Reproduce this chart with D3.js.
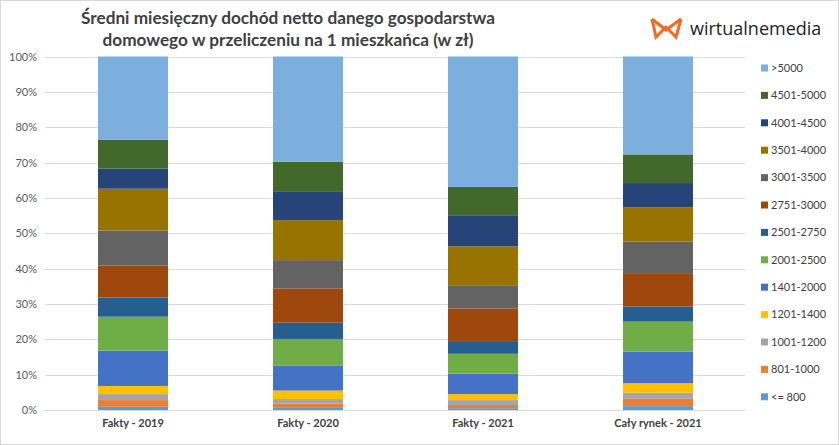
<!DOCTYPE html>
<html><head><meta charset="utf-8">
<script src="https://cdn.jsdelivr.net/npm/d3@7"></script>
<style>body{margin:0;background:#fff}svg{display:block}</style>
</head><body><svg id="c" width="839" height="445"></svg>
<script>
const categories = ["Fakty - 2019", "Fakty - 2020", "Fakty - 2021", "Cały rynek - 2021"];
const seriesNames = ["<= 800","801-1000","1001-1200","1201-1400","1401-2000","2001-2500","2501-2750","2751-3000","3001-3500","3501-4000","4001-4500","4501-5000",">5000"];
const seriesColors = ["#5B9BD5","#ED7D31","#A5A5A5","#FFC000","#4472C4","#70AD47","#255E91","#9E480E","#636363","#997300","#264478","#43682B","#7CAFDD"];
// percent values per series, one per category
const v_le800   = [0.9, 0.8, 0.5, 1.1];
const v_801     = [1.9, 1.0, 0.9, 2.1];
const v_1001    = [1.7, 1.3, 1.4, 1.7];
const v_1201    = [2.3, 2.4, 1.7, 2.7];
const v_1401    = [10.0, 7.1, 5.8, 8.9];
const v_2001    = [9.6, 7.5, 5.6, 8.5];
const v_2501    = [5.4, 4.6, 3.6, 4.3];
const v_2751    = [9.1, 9.7, 9.2, 9.2];
const v_3001    = [9.9, 8.0, 6.6, 9.2];
const v_3501    = [11.8, 11.3, 11.0, 9.6];
const v_4001    = [5.7, 8.0, 8.8, 6.9];
const v_4501    = [8.2, 8.5, 8.0, 8.1];
const v_gt5000  = [23.5, 29.8, 36.9, 27.7];
const yTicks = [0,10,20,30,40,50,60,70,80,90,100];
const titleLines = ["Średni miesięczny dochód netto danego gospodarstwa", "domowego w przeliczeniu na 1 mieszkańca (w zł)"];

const seriesValues = [v_le800,v_801,v_1001,v_1201,v_1401,v_2001,v_2501,v_2751,v_3001,v_3501,v_4001,v_4501,v_gt5000];
const rows = categories.map((c,i)=>{const r={cat:c}; seriesNames.forEach((s,j)=>r[s]=seriesValues[j][i]); return r;});
const stacked = d3.stack().keys(seriesNames)(rows);

const svg = d3.select("#c");
svg.append("rect").attr("x",0.5).attr("y",0.5).attr("width",838).attr("height",444).attr("fill","#fff").attr("stroke","#D9D9D9");

const x = d3.scaleBand().domain(categories).range([45.5,745.5]).paddingInner(0.6).paddingOuter(0.3);
const y = d3.scaleLinear().domain([0,100]).range([410,56.5]);

// gridlines
svg.append("g").selectAll("line").data(yTicks).join("line")
  .attr("x1",45).attr("x2",745).attr("y1",d=>Math.round(y(d))+0.5).attr("y2",d=>Math.round(y(d))+0.5)
  .attr("stroke","#D9D9D9").attr("stroke-width",1);

// y axis labels
const ya = svg.append("g").attr("transform","translate(37,0)")
  .call(d3.axisLeft(y).tickValues(yTicks).tickFormat(d=>d+"%").tickSize(0).tickPadding(0));
ya.select(".domain").remove();
ya.selectAll("text").attr("font-family","Lato, 'Open Sans', sans-serif").attr("font-size",11).attr("fill","#595959");

// bars
svg.append("g").selectAll("g").data(stacked).join("g")
  .attr("fill",(d,i)=>seriesColors[i])
  .selectAll("rect").data(d=>d).join("rect")
  .attr("x",d=>x(d.data.cat)).attr("width",x.bandwidth())
  .attr("y",d=>y(d[1])).attr("height",d=>y(d[0])-y(d[1]));

// x axis labels
const xa = svg.append("g").attr("transform","translate(0,419)")
  .call(d3.axisBottom(x).tickSize(0).tickPadding(0));
xa.select(".domain").remove();
xa.selectAll("text").attr("font-family","Lato, 'Open Sans', sans-serif").attr("font-size",11).attr("font-weight","bold").attr("fill","#404040");

// legend
const leg = svg.append("g");
const legOrder = seriesNames.map((s,i)=>i).reverse();
legOrder.forEach((si,k)=>{
  const ly = 68 + k*27.4;
  leg.append("rect").attr("x",761).attr("y",ly-3.5).attr("width",7).attr("height",7).attr("fill",seriesColors[si]);
  leg.append("text").attr("x",771).attr("y",ly).attr("dy","0.35em")
    .attr("font-family","Lato, 'Open Sans', sans-serif").attr("font-size",11).attr("fill","#404040").text(seriesNames[si]);
});

// title
svg.append("g").selectAll("text").data(titleLines).join("text")
  .attr("x",288).attr("y",(d,i)=>24+i*21.5).attr("text-anchor","middle")
  .attr("font-family","Lato, 'Open Sans', sans-serif").attr("font-weight","bold").attr("font-size",17.2).attr("fill","#404040")
  .text(d=>d);

// logo
const logo = svg.append("g").attr("fill","none").attr("stroke","#F26A21").attr("stroke-width",3).attr("stroke-linejoin","miter");
logo.append("path").attr("d","M652,19 L656,37 L666,27 L676,37 L681,19");
logo.append("path").attr("d","M652,19 L666,30 L681,19");
logo.append("text").attr("x",690).attr("y",35).attr("font-family","'Open Sans', Lato, sans-serif")
  .attr("font-size",18).attr("fill","#231F20").attr("stroke","none").text("wirtualnemedia");
</script></body></html>
